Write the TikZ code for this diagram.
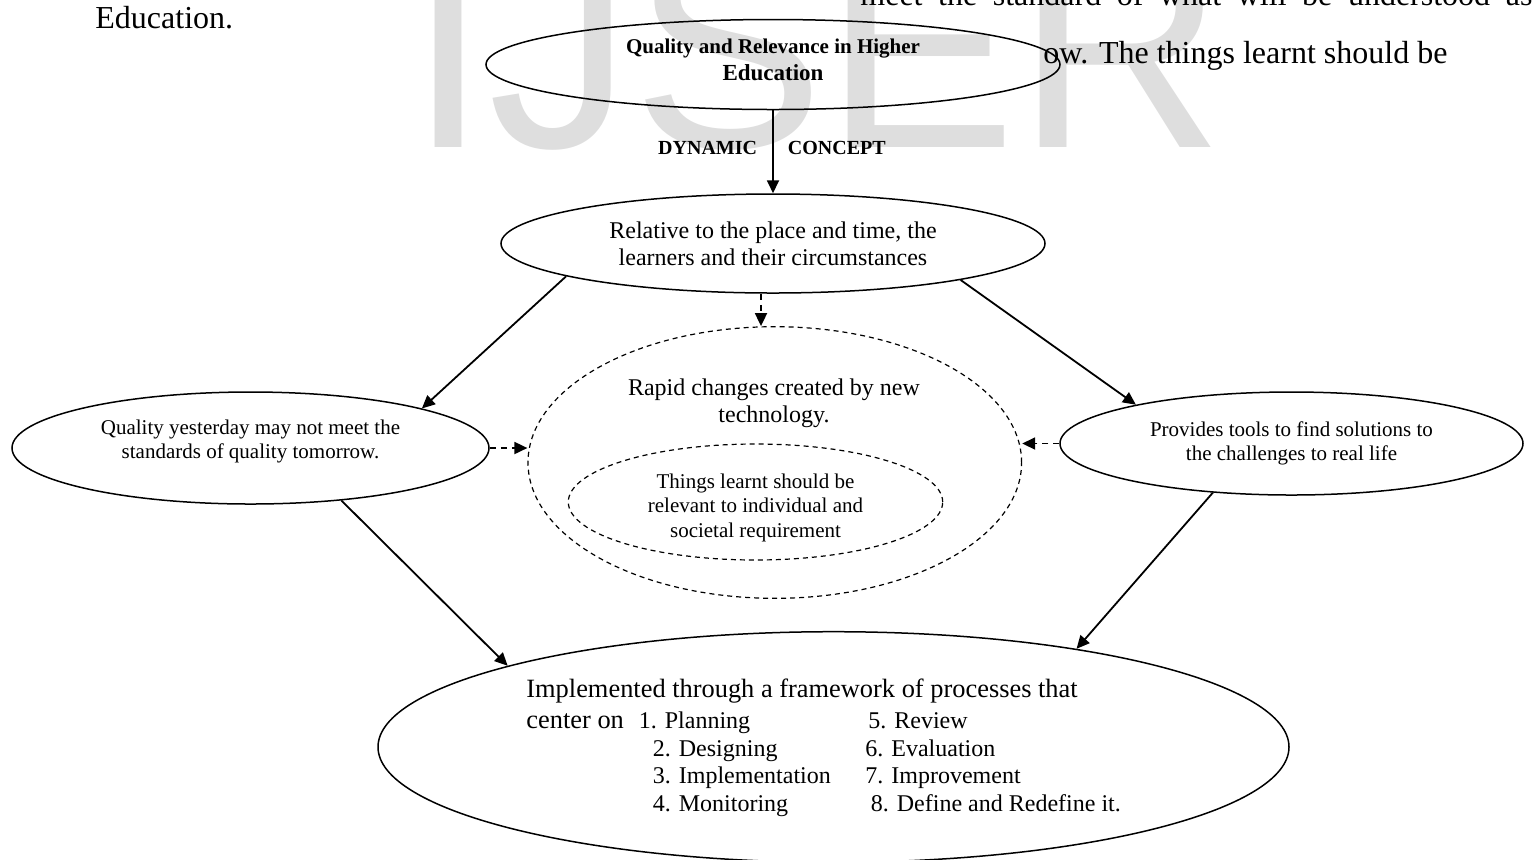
\documentclass[tikz,border=0pt]{standalone}
\usepackage{fontspec}
\setmainfont{Liberation Serif}
\newfontfamily\wmfont{Liberation Sans}
\usetikzlibrary{positioning,shapes.geometric,arrows.meta}

\begin{document}
\begin{tikzpicture}[
        x=0.5pt, y=-0.5pt,
        oval/.style={ellipse, draw, line width=0.75pt, inner sep=0pt, align=center},
        dashoval/.style={oval, line width=0.6pt, dash pattern=on 2.5pt off 2pt},
        arrow/.style={-{Triangle[length=6.5pt, width=6pt]}, line width=0.9pt},
        darrow/.style={arrow, dash pattern=on 3pt off 2.5pt},
        pagetxt/.style={anchor=base west, inner sep=0pt, font=\fontsize{16}{18}\selectfont},
        intxt/.style={inner sep=0pt, align=center},
        item/.style={anchor=base west, inner sep=0pt, font=\fontsize{12}{14}\selectfont},
        lbl/.style={inner sep=0pt, font=\bfseries\fontsize{10}{12}\selectfont}
    ]
    \useasboundingbox (0,0) rectangle (1532,859);
    \clip (0,0) rectangle (1532,859);

    % page behind the figure
    \node[anchor=base west, inner sep=0pt, text=black!13, font=\wmfont\fontsize{144}{144}\selectfont] (wm) at (408,147) {IJSER};
    \node[pagetxt] (pg1) at (860,5) {\makebox[336pt][s]{meet the standard of what will be understood as}};
    \node[pagetxt] (pg2) at (1043,63) {ow. The things learnt should be};
    \node[pagetxt] (pg3) at (95,28) {Education.};

    % top of the chain
    \node[oval, minimum width=287pt, minimum height=45pt] (qual) at (773,64.5) {};
    \node[intxt, font=\bfseries\fontsize{10.5}{13.3}\selectfont] (qualtxt) at (773,60) {Quality and Relevance in Higher\\{\fontsize{11.5}{13.3}\selectfont Education}};
    \node[oval, below=41.5pt of qual, minimum width=272pt, minimum height=49.5pt, font=\fontsize{12}{13.4}\selectfont] (rel) {Relative to the place and time, the\\learners and their circumstances};

    % side ovals
    \node[oval, minimum width=238.5pt, minimum height=56pt] (yest) at (250.5,448) {};
    \node[intxt, font=\fontsize{10.5}{12}\selectfont] (yesttxt) at (250.5,441) {Quality yesterday may not meet the\\standards of quality tomorrow.};
    \node[oval, minimum width=231.5pt, minimum height=51.5pt, font=\fontsize{10.5}{12}\selectfont] (tools) at (1291.5,443.5) {Provides tools to find solutions to\\the challenges to real life};

    % dashed ovals in the middle
    \node[dashoval, minimum width=246.8pt, minimum height=135.8pt] (rapid) at (774.8,462.5) {};
    \node[intxt, font=\fontsize{12}{13.5}\selectfont] (rapidtxt) at (774,403.5) {Rapid changes created by new\\technology.};
    \node[dashoval, minimum width=187.2pt, minimum height=58pt] (learnt) at (755.5,502) {};
    \node[intxt, font=\fontsize{10.5}{12.25}\selectfont] (learnttxt) at (755.5,507.5) {Things learnt should be\\relevant to individual and\\societal requirement};

    % framework oval
    \node[oval, minimum width=455.5pt, minimum height=115.3pt] (frame) at (833.5,747) {};
    \node[item, font=\fontsize{13.2}{15}\selectfont] (fw0) at (526,697) {Implemented through a framework of processes that};
    \node[item, font=\fontsize{13.2}{15}\selectfont] (fw1) at (526,728.5) {center on};
    \node[item] (p1) at (638.5,728.5) {1. Planning};
    \node[item] (p2) at (652.5,756.3) {2. Designing};
    \node[item] (p3) at (652.5,783) {3. Implementation};
    \node[item] (p4) at (652.5,811.3) {4. Monitoring};
    \node[item] (p5) at (868,728.5) {5. Review};
    \node[item] (p6) at (865,756.3) {6. Evaluation};
    \node[item] (p7) at (865,783) {7. Improvement};
    \node[item] (p8) at (870.5,811.3) {8. Define and Redefine it.};

    % solid arrows
    \draw[arrow] (qual.south) -- node[lbl, pos=0.46, anchor=east, xshift=-7.5pt] (dyn) {DYNAMIC} node[lbl, pos=0.46, anchor=west, xshift=7pt] (con) {CONCEPT} (rel.north);
    \draw[arrow] (rel.189.7) -- (yest.13);
    \draw[arrow] (rel.349.6) -- (tools.166.5);
    \draw[arrow] (yest.330.6) -- (frame.166.9);
    \draw[arrow] (tools.212.5) -- (frame.22.7);

    % dashed arrows
    \draw[darrow] ([xshift=-6pt]rel.south) -- ([xshift=-6pt]rel.south |- rapid.north);
    \draw[darrow] (yest.east) -- (yest.east -| rapid.west);
    \draw[darrow] (tools.west) -- (tools.west -| rapid.east);

\end{tikzpicture}
\end{document}
